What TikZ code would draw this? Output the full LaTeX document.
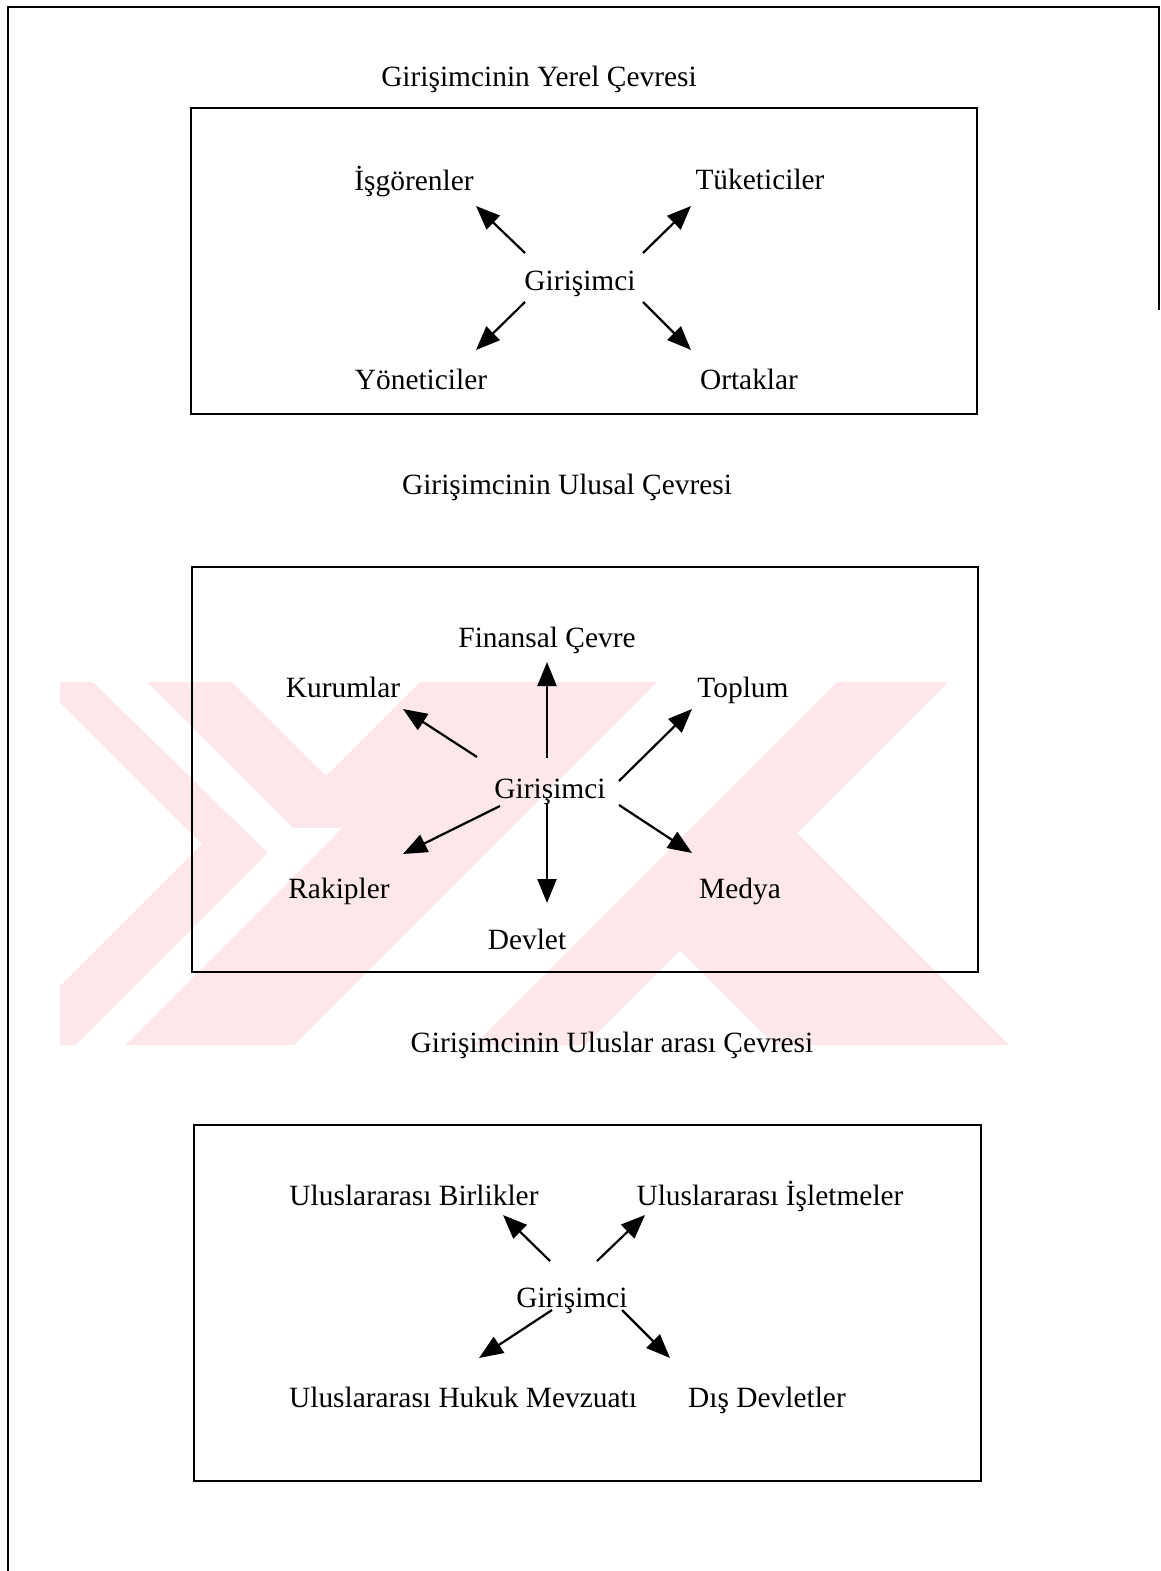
\documentclass[tikz,border=0pt]{standalone}
\usepackage{fontspec}
\setmainfont{Liberation Serif}
\usepackage{xcolor}
\usepackage{tikz}
\usetikzlibrary{arrows.meta,positioning}

\definecolor{wmpink}{RGB}{253,231,235}

\begin{document}
\begin{tikzpicture}[x=1pt, y=-1pt,
    lbl/.style={font=\fontsize{29.4}{34}\selectfont, inner sep=0pt, anchor=base},
    panel/.style={rectangle, draw, line width=1.8pt, inner sep=0pt},
    arr/.style={-{Triangle[length=24pt,width=19pt]}, line width=2.2pt}]
    \useasboundingbox (0,0) rectangle (1161,1571);

    % watermark
    \begin{scope}
        \clip (60,682) rectangle (1010,1045);
        \fill[wmpink] (40,682) -- (232,682) -- (326,776) -- (420,682) -- (657,682) -- (294,1045) -- (1,1045) -- (202,844) -- cycle;
        \fill[white] (93,682) -- (147,682) -- (293,828) -- (268,853) -- cycle;
        \fill[white] (268,853) -- (293,828) -- (342,828) -- (125,1045) -- (76,1045) -- cycle;
        \fill[wmpink] (837,682) -- (948,682) -- (797,833) -- (1009,1045) -- (775,1045) -- (680,950) -- (585,1045) -- (474,1045) -- cycle;
    \end{scope}

    \draw[line width=1.8pt] (8,1571) -- (8,7) -- (1159,7) -- (1159,310);

    % yerel
    \node (t1) [lbl] at (539,86) {Girişimcinin Yerel Çevresi};
    \node (box1) [panel, minimum width=786pt, minimum height=306pt] at (584,261) {};
    \node (gir1) [lbl] at (580,290) {Girişimci};
    \node (isg) [lbl] at (414,190) {İşgörenler};
    \node (tuk) [lbl] at (760,189) {Tüketiciler};
    \node (yon) [lbl] at (421,389) {Yöneticiler};
    \node (ort) [lbl] at (749,389) {Ortaklar};
    \coordinate (isg1) at (476,206);
    \coordinate (tuk1) at (691,206);
    \coordinate (yon1) at (476,350);
    \coordinate (ort1) at (691,350);
    \draw[arr] (525,253) -- (isg1);
    \draw[arr] (643,253) -- (tuk1);
    \draw[arr] (525,302) -- (yon1);
    \draw[arr] (643,302) -- (ort1);

    % ulusal
    \node (t2) [lbl] at (567,494) {Girişimcinin Ulusal Çevresi};
    \node (box2) [panel, minimum width=786pt, minimum height=405pt] at (585,769.5) {};
    \node (gir2) [lbl] at (550,798) {Girişimci};
    \node (fin) [lbl] at (547,647) {Finansal Çevre};
    \node (kur) [lbl] at (343,697) {Kurumlar};
    \node (top) [lbl] at (743,697) {Toplum};
    \node (rak) [lbl] at (339,898) {Rakipler};
    \node (med) [lbl] at (740,898) {Medya};
    \node (dev) [lbl] at (527,949) {Devlet};
    \coordinate (fin1) at (547,662);
    \coordinate (kur1) at (403,709);
    \coordinate (top1) at (692,709);
    \coordinate (rak1) at (403,854);
    \coordinate (med1) at (692,853);
    \coordinate (dev1) at (547,903);
    \draw[arr] (547,758) -- (fin1);
    \draw[arr] (477,757) -- (kur1);
    \draw[arr] (619,781) -- (top1);
    \draw[arr] (500,806) -- (rak1);
    \draw[arr] (619,805) -- (med1);
    \draw[arr] (547,803) -- (dev1);

    % uluslar arasi
    \node (t3) [lbl] at (612,1052) {Girişimcinin Uluslar arası Çevresi};
    \node (box3) [panel, minimum width=787pt, minimum height=356pt] at (587.5,1303) {};
    \node (gir3) [lbl] at (572,1307) {Girişimci};
    \node (bir) [lbl] at (414,1205) {Uluslararası Birlikler};
    \node (isl) [lbl] at (770,1205) {Uluslararası İşletmeler};
    \node (huk) [lbl] at (463,1407) {Uluslararası Hukuk Mevzuatı};
    \node (dis) [lbl] at (767,1407) {Dış Devletler};
    \coordinate (bir1) at (503,1215);
    \coordinate (isl1) at (645,1215);
    \coordinate (huk1) at (479,1358);
    \coordinate (dis1) at (670,1358);
    \draw[arr] (550,1261) -- (bir1);
    \draw[arr] (597,1261) -- (isl1);
    \draw[arr] (552,1310) -- (huk1);
    \draw[arr] (622,1310) -- (dis1);
\end{tikzpicture}
\end{document}
